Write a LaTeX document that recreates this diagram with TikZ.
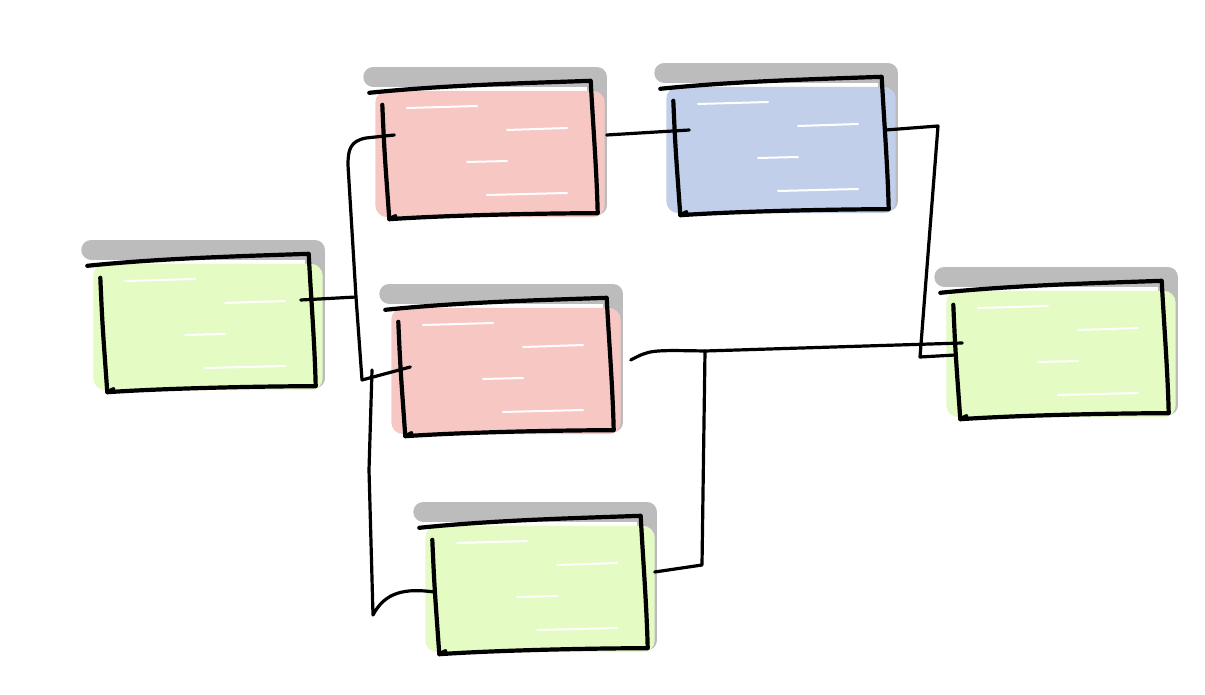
\documentclass[tikz,border=0pt]{standalone}
\usetikzlibrary{calc}
\definecolor{shd}{HTML}{BCBCBC}
\definecolor{grnfill}{HTML}{E4FBC4}
\definecolor{redfill}{HTML}{F7C7C3}
\definecolor{bluefill}{HTML}{C2CFEB}
\tikzset{
  box/.style={minimum width=215pt, minimum height=130pt, inner sep=0pt, draw=none},
  outline/.style={line width=4.2pt, line cap=round, line join=round, black},
  conn/.style={line width=3.2pt, line cap=round, line join=round, black},
  streak/.style={white, line width=2pt, line cap=round},
  shadowline/.style={shd, line width=20pt, line cap=round, line join=round}
}
\newcommand\sketchfill[2]{%
  \draw[shadowline] ($(#1.north west)+(-6,-8)$) -- ($(#1.north east)+(2,-8)$) -- ($(#1.south east)+(2,-10)$);
  \fill[#2, rounded corners=12pt] ($(#1.north west)+(-4,6)$) rectangle ($(#1.south east)+(10,2)$);
  \draw[streak] ($(#1.center)+(-80,-42)$) -- ++(70,-2);
  \draw[streak] ($(#1.center)+(20,-20)$) -- ++(60,-2);
  \draw[streak] ($(#1.center)+(-20,12)$) -- ++(40,-1);
  \draw[streak] ($(#1.center)+(0,45)$) -- ++(80,-2);
}
\newcommand\sketchline[1]{%
  \draw[outline] ($(#1.north west)+(-10,8)$) .. controls ($(#1.north)+(-40,0)$) and ($(#1.north)+(50,-2)$) .. ($(#1.north east)+(-4,-4)$)
     .. controls ($(#1.east)+(-2,-30)$) and ($(#1.east)+(2,20)$) .. ($(#1.south east)+(3,-2)$)
     .. controls ($(#1.south)+(60,-2)$) and ($(#1.south)+(-40,0)$) .. ($(#1.south west)+(10,4)$) -- ++(6,-3);
  \draw[outline] ($(#1.north west)+(3,20)$) .. controls ($(#1.west)+(5,0)$) .. ($(#1.south west)+(10,4)$);
}
\begin{document}
\begin{tikzpicture}[x=1pt,y=-1pt]
\useasboundingbox (0,0) rectangle (1205,695);
\fill[white] (0,0) rectangle (1205,695);
\node[box] (A) at (205,323) {};
\node[box] (B) at (487,150) {};
\node[box] (C) at (778,146) {};
\node[box] (D) at (503,367) {};
\node[box] (E) at (537,585) {};
\node[box] (F) at (1058,350) {};
\sketchfill{A}{grnfill}
\sketchfill{B}{redfill}
\sketchfill{C}{bluefill}
\sketchfill{D}{redfill}
\sketchfill{E}{grnfill}
\sketchfill{F}{grnfill}
% connectors
\coordinate (ja) at (356,297);
\coordinate (jb) at (348,165);
\coordinate (jd) at (362,380);
\coordinate (je) at (372,370);
\coordinate (jc) at (938,126);
\coordinate (jf) at (920,357);
\coordinate (jg) at (705,351);
\coordinate (jh) at (702,565);
\draw[conn] ($(A.east)+(-12,-23)$) -- (ja);
\draw[conn] ($(B.west)+(15,-15)$) -- (366,138) .. controls (350,141) and (348,150) .. (jb) -- (ja) -- (jd) -- ($(D.west)+(15,0)$);
\draw[conn] (je) -- (369,470) -- (373,615) .. controls (385,592) and (405,588) .. ($(E.west)+(5,7)$);
\draw[conn] ($(B.east)+(12,-15)$) -- ($(C.west)+(19,-16)$);
\draw[conn] ($(C.east)+(0,-16)$) -- (jc) -- (jf) -- ($(F.west)+(5,5)$);
\draw[conn] ($(D.east)+(20,-7)$) .. controls (650,350) .. (jg) -- ($(F.west)+(12,-7)$);
\draw[conn] (jg) -- (jh) -- ($(E.east)+(10,-13)$);
% outlines
\sketchline{A}
\sketchline{B}
\sketchline{C}
\sketchline{D}
\sketchline{E}
\sketchline{F}
\end{tikzpicture}
\end{document}
